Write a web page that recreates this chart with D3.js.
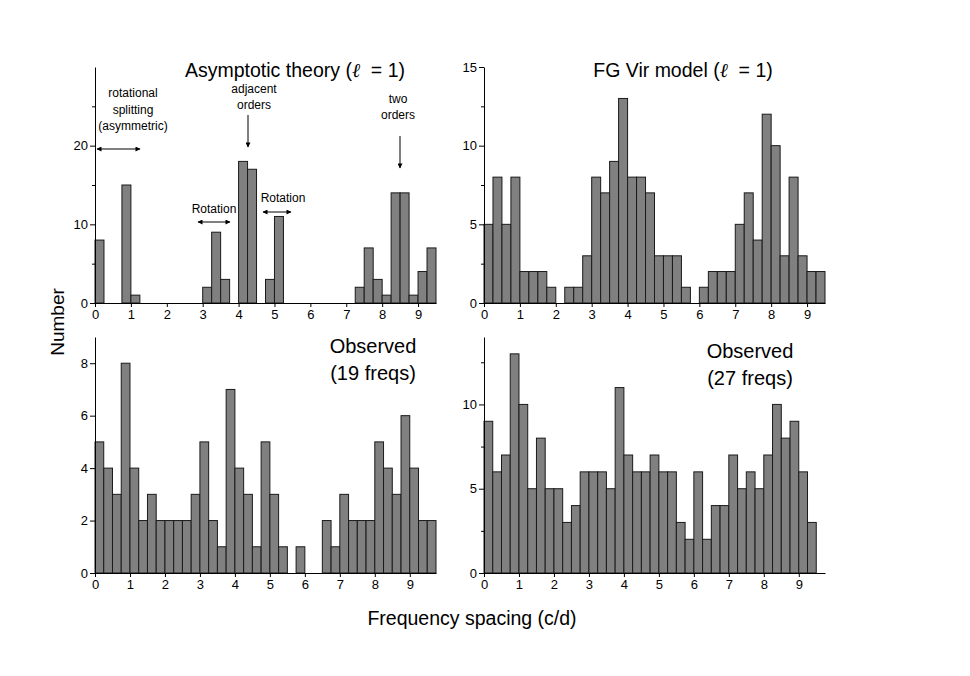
<!DOCTYPE html>
<html>
<head>
<meta charset="utf-8">
<script src="https://cdn.jsdelivr.net/npm/d3@7"></script>
<style>
  body { margin: 0; background: #fff; }
  svg { font-family: "Liberation Sans", Arial, sans-serif; }
  .bar { fill: #808080; stroke: #1a1a1a; stroke-width: 1; }
  .axis path, .axis line { stroke: #000; }
  .axis text { font-size: 13px; fill: #000; font-family: "Liberation Sans", Arial, sans-serif; }
</style>
</head>
<body>
<svg width="970" height="676"></svg>
<script>
// histogram bins are 0.25 c/d wide, starting at 0
var binWidth = 0.25;
var xTicks = [0, 1, 2, 3, 4, 5, 6, 7, 8, 9];

// counts per bin
var asymptotic = [8,0,0,15,1, 0,0,0,0,0,0,0, 2,9,3,0, 18,17,0,3,11, 0,0,0,0,0,0,0,0, 2,7,3,1,14,14,1,4,7];
var fgVirModel = [5,8,5,8, 2,2,2,1, 0,1,1,3, 8,7,9,13, 8,8,7,3, 3,3,1,0, 1,2,2,2, 5,7,4,12, 10,3,8,3, 2,2];
var observed19 = [5,4,3,8, 4,2,3,2, 2,2,2,3, 5,2,1,7, 4,3,1,5, 3,1,0,1, 0,0,2,1, 3,2,2,2, 5,4,3,6, 4,2,2];
var observed27 = [9,6,7,13, 10,5,8,5, 5,3,4,6, 6,6,5,11, 7,6,6,7, 6,6,3,2, 6,2,4,4, 7,5,6,5, 7,10,8,9, 6,3];

var svg = d3.select("svg");

var defs = svg.append("defs");
defs.append("marker")
    .attr("id", "head")
    .attr("viewBox", "0 0 10 10")
    .attr("refX", 9).attr("refY", 5)
    .attr("markerWidth", 7).attr("markerHeight", 5)
    .attr("orient", "auto-start-reverse")
    .append("path")
    .attr("d", "M0,0 L10,5 L0,10 z")
    .attr("fill", "#000");

function panel(opts) {
    var x = d3.scaleLinear().domain([0, opts.xMax]).range([opts.left, opts.left + 341]);
    var y = d3.scaleLinear().domain([0, opts.yMax]).range([opts.bottom, opts.bottom - 236]);
    var g = svg.append("g");

    g.selectAll("rect.bar")
        .data(opts.counts.map(function(c, i) { return {x0: i * binWidth, n: c}; })
                  .filter(function(d) { return d.n > 0; }))
        .enter()
        .append("rect")
        .attr("class", "bar")
        .attr("x", function(d) { return x(d.x0); })
        .attr("width", function(d) { return x(d.x0 + binWidth) - x(d.x0); })
        .attr("y", function(d) { return y(d.n); })
        .attr("height", function(d) { return y(0) - y(d.n); });

    g.append("g")
        .attr("class", "axis")
        .attr("transform", "translate(0," + opts.bottom + ")")
        .call(d3.axisBottom(x).tickValues(xTicks).tickSize(4).tickPadding(3).tickSizeOuter(0));

    g.append("g")
        .attr("class", "axis")
        .attr("transform", "translate(" + opts.left + ",0)")
        .call(d3.axisLeft(y).tickValues(opts.yTicks).tickSize(5).tickPadding(2).tickSizeOuter(0));

    if (opts.yMinor) {
        g.append("g")
            .attr("class", "axis")
            .attr("transform", "translate(" + opts.left + ",0)")
            .call(d3.axisLeft(y).tickValues(opts.yMinor).tickSize(3).tickFormat("").tickSizeOuter(0))
            .select(".domain").remove();
    }
    g.selectAll(".axis .domain").attr("stroke-width", 1);
    return {x: x, y: y};
}

panel({counts: asymptotic, left: 95, bottom: 303, xMax: 9.5, yMax: 30,
    yTicks: [0, 10, 20], yMinor: [5, 15, 25]});
panel({counts: fgVirModel, left: 484, bottom: 303, xMax: 9.5, yMax: 15,
    yTicks: [0, 5, 10, 15], yMinor: [2.5, 7.5, 12.5]});
panel({counts: observed19, left: 95, bottom: 573, xMax: 9.75, yMax: 9,
    yTicks: [0, 2, 4, 6, 8]});
panel({counts: observed27, left: 484, bottom: 573, xMax: 9.75, yMax: 14,
    yTicks: [0, 5, 10], yMinor: [2.5, 7.5, 12.5]});

// panel titles
function ellTitle(cx, yy, before) {
    var t = svg.append("text")
        .attr("x", cx).attr("y", yy)
        .attr("text-anchor", "middle")
        .style("font-size", "19.5px");
    t.append("tspan").text(before);
    t.append("tspan").style("font-style", "italic").style("font-family", "DejaVu Serif").text("\u2113");
    t.append("tspan").text("\u00a0\u00a0= 1)");
}
ellTitle(295, 77, "Asymptotic theory (");
ellTitle(683, 77, "FG Vir model (");

function label(lines, cx, y0, dy, size) {
    lines.forEach(function(s, i) {
        svg.append("text")
            .attr("x", cx).attr("y", y0 + i * dy)
            .attr("text-anchor", "middle")
            .style("font-size", size + "px")
            .text(s);
    });
}
label(["Observed", "(19 freqs)"], 373, 353, 27, 20);
label(["Observed", "(27 freqs)"], 750, 358, 27, 20);

// annotations in the asymptotic panel
label(["rotational", "splitting", "(asymmetric)"], 133, 97, 16.5, 12);
label(["adjacent", "orders"], 254, 93, 16, 12);
label(["two", "orders"], 398, 103, 16, 12);
label(["Rotation"], 214, 213, 0, 12);
label(["Rotation"], 283, 202, 0, 12);

function arrow(x1, y1, x2, y2, both) {
    var l = svg.append("line")
        .attr("x1", x1).attr("y1", y1).attr("x2", x2).attr("y2", y2)
        .attr("stroke", "#000").attr("stroke-width", 1)
        .attr("marker-end", "url(#head)");
    if (both) l.attr("marker-start", "url(#head)");
}
arrow(97, 149, 140, 149, true);
arrow(248, 115, 248, 147, false);
arrow(400, 136, 400, 168, false);
arrow(198, 222, 230, 222, true);
arrow(263, 212, 291, 212, true);

// shared axis titles
svg.append("text")
    .attr("transform", "translate(64,322) rotate(-90)")
    .attr("text-anchor", "middle")
    .style("font-size", "19px")
    .text("Number");
svg.append("text")
    .attr("x", 472).attr("y", 625)
    .attr("text-anchor", "middle")
    .style("font-size", "19.5px")
    .text("Frequency spacing (c/d)");
</script>
</body>
</html>
